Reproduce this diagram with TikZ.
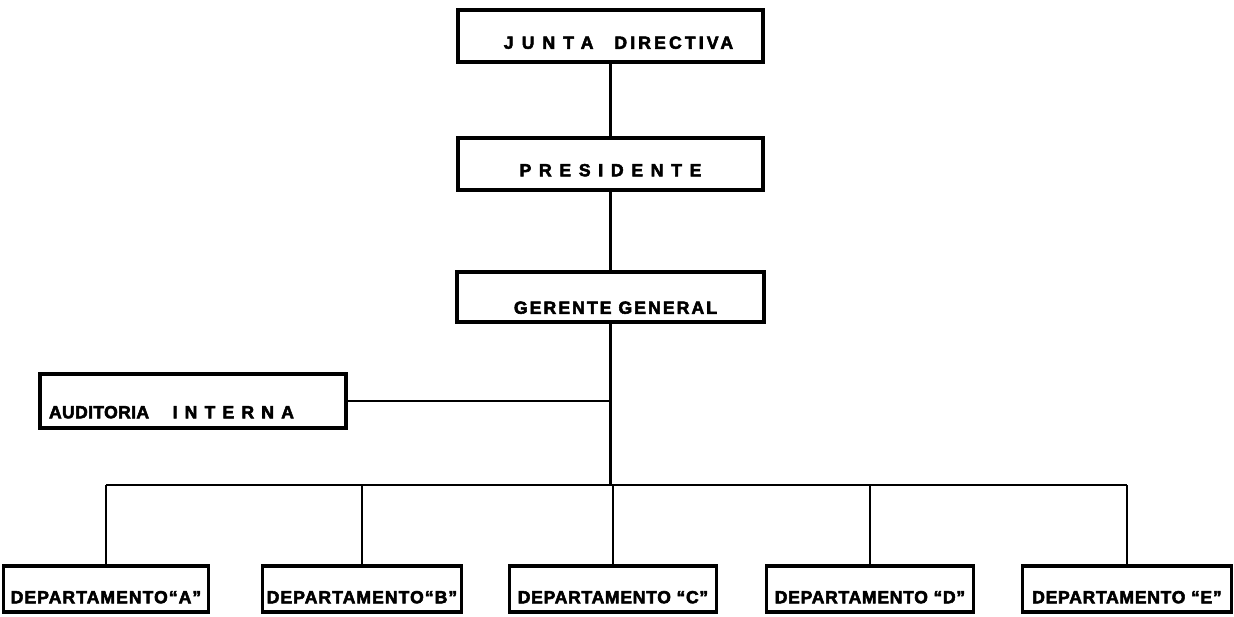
\documentclass[tikz,border=0pt]{standalone}
\usepackage{fontspec}
\setmainfont{Liberation Sans}[BoldFeatures={FakeBold=3}]
\newcommand{\lsp}[2]{{\addfontfeatures{LetterSpace=#1}#2}}

\begin{document}
\begin{tikzpicture}[x=0.02cm, y=-0.02cm]
\tikzstyle{every node}=[font=\fontsize{10}{12}\selectfont\bfseries]
\tikzstyle{box}=[draw, rectangle, line width=2pt, inner sep=2pt, text depth=0pt]
\tikzstyle{dept}=[box, minimum height=0.92cm, inner xsep=1pt, text height=0.57cm]
\tikzstyle{link}=[draw, line width=1.3pt]

\useasboundingbox (0,0) rectangle (1234,616);

\node[box, minimum width=6.1cm, minimum height=1.04cm, text height=0.51cm]
  at (610.5,36) (JD) {\hspace{0.32cm}\lsp{46}{JUNTA}\hspace{0.42cm}\lsp{18}{DIRECTIVA}};
\node[box, minimum width=6.1cm, minimum height=1.04cm, text height=0.49cm]
  at (610.5,164) (P) {\lsp{44}{PRESIDENTE}\hspace{0.1cm}};
\node[box, minimum width=6.14cm, minimum height=1cm, text height=0.67cm]
  at (610.5,297) (GG) {\hspace{0.2cm}\lsp{12}{GERENTE GENERAL}};
\node[box, minimum height=1.08cm, text width=5.76cm, inner xsep=0.18cm, align=left,
  text height=0.69cm] at (193,401) (AI) {\lsp{2}{AUDITORIA}\hspace{0.47cm}\lsp{41}{INTERNA}};

% departamentos
\node[dept, minimum width=4.1cm] at (106,589) (A) {\lsp{6}{DEPARTAMENTO``A''}};
\node[dept, minimum width=3.98cm] at (362,589) (B) {\lsp{6}{DEPARTAMENTO``B''}};
\node[dept, minimum width=4.14cm] at (613,589) (C) {\lsp{4}{DEPARTAMENTO ``C''}};
\node[dept, minimum width=4.14cm] at (870,589) (D) {\lsp{4}{DEPARTAMENTO ``D''}};
\node[dept, minimum width=4.18cm] at (1127,589) (E) {\lsp{4}{DEPARTAMENTO ``E''}};

\coordinate (T) at (GG |- 0,485);

\draw[link] (JD) -- (P);
\draw[link] (P) -- (GG);
\draw[link] (GG) -- (T);
\draw[link] (AI) -- (AI -| GG);
\draw[link] (A |- T) -- (E |- T);
\foreach \d in {A,B,C,D,E}
  \draw[link] (\d |- T) -- (\d);
\end{tikzpicture}
\end{document}
